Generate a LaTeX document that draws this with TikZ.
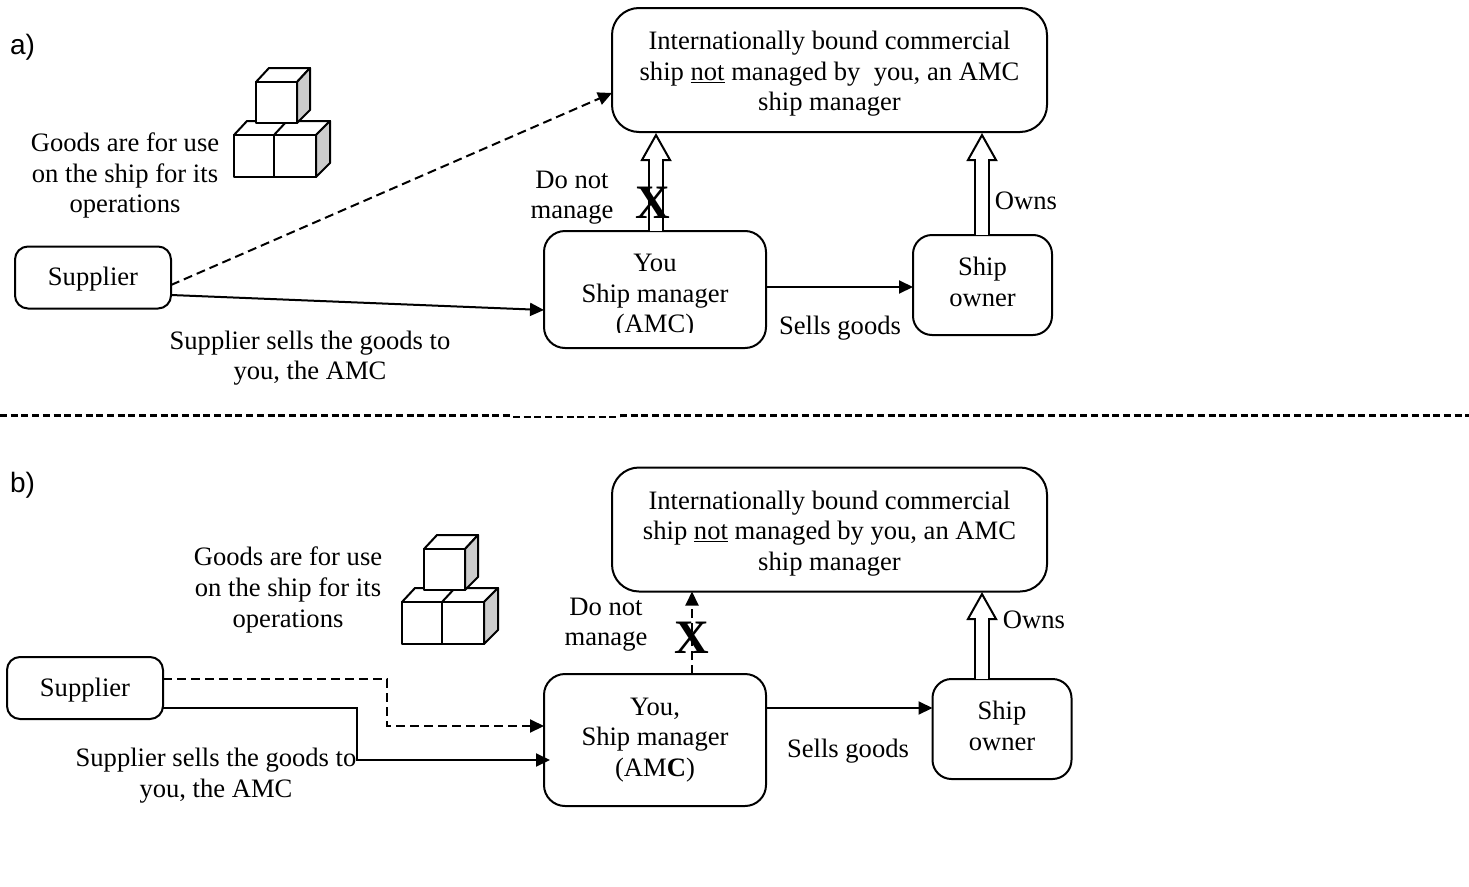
\documentclass[tikz,border=0pt]{standalone}
\usepackage{fontspec}
\setmainfont{Liberation Serif}
\newfontfamily\arialfont{Liberation Sans}
\usetikzlibrary{arrows.meta,calc}
\tikzset{
  x=1pt,y=-1pt,
  rbox/.style={draw,line width=2pt,inner sep=0pt,outer sep=0pt,align=center,font=\body},
  big/.style={rbox,minimum width=435pt,minimum height=124pt,rounded corners=27pt},
  sup/.style={rbox,minimum width=156pt,minimum height=62pt,rounded corners=13pt},
  you/.style={rbox,minimum width=222pt,rounded corners=21pt},
  own/.style={rbox,minimum width=139pt,minimum height=100pt,rounded corners=19pt},
  txt/.style={inner sep=0pt,outer sep=0pt,align=center,font=\body,yshift=-2.5pt},
  tag/.style={inner sep=0pt,outer sep=0pt,font=\arialfont\fontsize{28}{32}\selectfont},
  xmark/.style={inner sep=0pt,outer sep=0pt,font=\fontsize{48}{48}\selectfont\bfseries},
  conn/.style={line width=2pt,-{Triangle[length=14pt,width=13pt]}},
  dconn/.style={conn,dash pattern=on 9pt off 5pt},
  hhead/.style={line width=2pt,-{Triangle[length=28pt,width=31pt,fill=white]}},
  hshaft/.style={double,line width=2pt,double distance=12pt},
  sep/.style={line width=3pt,dash pattern=on 7pt off 3.7pt},
  cube/.style={draw,line width=2pt,fill=white,line join=round},
  cubeside/.style={draw,line width=2pt,fill=black!20,line join=round},
}
\newcommand{\body}{\fontsize{26.6}{30.6}\selectfont}
\newcommand{\lastlow}{\rule[-6pt]{0pt}{6pt}}
\newcommand{\firsthigh}{\rule{0pt}{26pt}}
\newcommand{\onehigh}{\rule{0pt}{22pt}}
\newcommand{\cubegroup}{%
  \draw[cube] (234,135) -- (247,121) -- (330,121) -- (316,135) -- cycle;
  \draw[cube] (274,135) -- (287,121);
  \draw[cubeside] (316,135) -- (330,121) -- (330,163) -- (316,177) -- cycle;
  \draw[cube] (234,135) rectangle (274,177);
  \draw[cube] (274,135) rectangle (316,177);
  \draw[cube] (256,82) -- (269,68) -- (310,68) -- (297,82) -- cycle;
  \draw[cubeside] (297,82) -- (310,68) -- (310,110) -- (297,123) -- cycle;
  \draw[cube] (256,82) rectangle (297,123);
}
\begin{document}
\begin{tikzpicture}
\useasboundingbox (0,0) rectangle (1469,886);

% ---------- panel a
\node[tag,anchor=west] (taga) at (10,47) {a)};
\cubegroup
\node[txt] (goodsa) at (125,173) {Goods are for use\\on the ship for its\\operations};
\node[big] (topa) at (829.5,70) {\firsthigh Internationally bound commercial\\ship \underline{not} managed by\ \ you, an AMC\\ship manager};
\node[sup] (supa) at (93,277.5) {\onehigh Supplier};
\node[you,minimum height=117pt] (youa) at (655,289.5) {};
\begin{scope}
  \clip (546,233) rectangle (764,332);
  \node[txt] (youatext) at (655,294) {You\\Ship manager\\(AMC)};
\end{scope}
\node[own] (owna) at (982.5,285) {Ship\\owner\lastlow};
\node[txt] (dna) at (572,195) {Do not\\manage};
\node[txt] (ownsa) at (1026,198) {Owns};
\node[txt] (sellsa) at (840,326) {Sells goods};
\node[txt] (ssa) at (310,355.5) {Supplier sells the goods to\\you, the AMC};

\coordinate (a1) at (171,285);
\coordinate (a2) at (612,93);
\coordinate (a3) at (171,295);
\coordinate (a4) at (544,310);
\draw[dconn] (a1) -- (a2);
\draw[conn] (a3) -- (a4);
\draw[conn] (youa.east |- 0,287) -- (owna.west |- 0,287);
% hollow arrows
\coordinate (hm0) at (656,231);
\coordinate (hm1) at (656,161);
\coordinate (hm2) at (656,133);
\draw[hhead] (hm1) -- (hm2);
\draw[hshaft] (hm0) -- ([yshift=2pt]hm1);
\coordinate (ho0) at (982,235);
\coordinate (ho1) at (982,161);
\coordinate (ho2) at (982,133);
\draw[hhead] (ho1) -- (ho2);
\draw[hshaft] (ho0) -- ([yshift=2pt]ho1);
\node[xmark] (xa) at (653,203) {X};

% ---------- separator
\coordinate (s0) at (0,415);
\coordinate (s1) at (513,415);
\coordinate (s2) at (513,417);
\coordinate (s3) at (620,417);
\coordinate (s4) at (620,415);
\coordinate (s5) at (1469,415);
\draw[sep] (s0) -- (s1);
\draw[sep,line width=2.2pt] (s2) -- (s3);
\draw[sep] (s4) -- (s5);

% ---------- panel b
\node[tag,anchor=west] (tagb) at (10,485) {b)};
\begin{scope}[shift={(168,467)}]
  \cubegroup
\end{scope}
\node[txt] (goodsb) at (288,587.5) {Goods are for use\\on the ship for its\\operations};
\node[big] (topb) at (829.5,529.5) {\firsthigh Internationally bound commercial\\ship \underline{not} managed by you, an AMC\\ship manager};
\node[sup] (supb) at (85,688) {\onehigh Supplier};
\node[you,minimum height=132pt] (youb) at (655,740) {You,\\Ship manager\\(AM\textbf{C})};
\node[own] (ownb) at (1002,729) {Ship\\owner\lastlow};
\node[txt] (dnb) at (606,622) {Do not\\manage};
\node[txt] (ownsb) at (1034,617) {Owns};
\node[txt] (sellsb) at (848,749) {Sells goods};
\node[txt] (ssb) at (216,773) {Supplier sells the goods to\\you, the AMC};

\coordinate (b1) at (163,679);
\coordinate (b2) at (387,679);
\coordinate (b3) at (387,726);
\coordinate (b4) at (544,726);
\draw[dconn,line width=2pt] (b1) -- (b2) -- (b3) -- (b4);
\coordinate (b5) at (163,708);
\coordinate (b6) at (357,708);
\coordinate (b7) at (357,760);
\coordinate (b8) at (550,760);
\draw[conn] (b5) -- (b6) -- (b7) -- (b8);
\draw[conn] (youb.east |- 0,708) -- (ownb.west |- 0,708);
\draw[dconn] (youb.north -| 692,0) -- (topb.south -| 692,0);
\coordinate (hb0) at (982,679);
\coordinate (hb1) at (982,620);
\coordinate (hb2) at (982,592);
\draw[hhead] (hb1) -- (hb2);
\draw[hshaft] (hb0) -- ([yshift=2pt]hb1);
\node[xmark] (xb) at (692,638) {X};
\end{tikzpicture}
\end{document}
